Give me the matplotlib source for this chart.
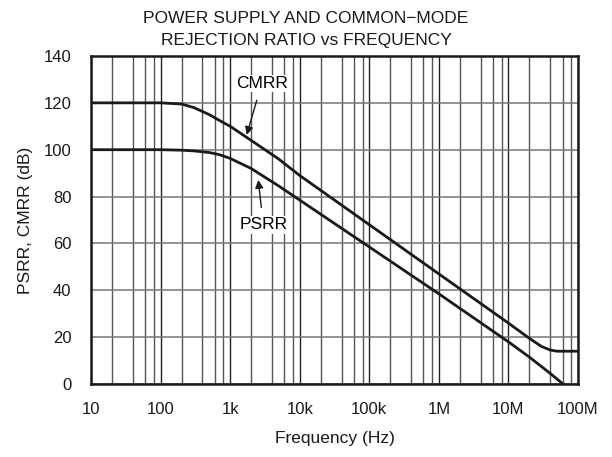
import numpy as np
import matplotlib.pyplot as plt
from matplotlib.ticker import FixedLocator, NullFormatter

plt.rcParams['font.family'] = ['Liberation Sans', 'DejaVu Sans']

# values
freq_cmrr = [10, 100, 200, 300, 500, 700, 1e3, 2e3, 5e3, 1e4, 1e5, 1e6, 1e7, 2e7, 3e7, 4e7, 5e7, 1e8]
cmrr = [120, 120, 119.5, 118, 115, 112.5, 110, 104, 96, 89, 68, 47, 26, 19.5, 16, 14.5, 14, 14]

freq_psrr = [10, 100, 200, 300, 500, 700, 1e3, 2e3, 5e3, 1e4, 1e5, 1e6, 1e7, 2e7, 4e7, 6.1e7]
psrr = [100, 100, 99.8, 99.5, 98.8, 97.9, 96.3, 92, 84.5, 78.5, 58.5, 38.5, 18, 11.5, 4.5, 0]

xticks = [10, 100, 1e3, 1e4, 1e5, 1e6, 1e7, 1e8]
xlabels = ['10', '100', '1k', '10k', '100k', '1M', '10M', '100M']
yticks = [0, 20, 40, 60, 80, 100, 120, 140]

fig = plt.figure(figsize=(6.12, 4.57), dpi=100)
ax = fig.add_axes([0.1487, 0.1597, 0.7957, 0.7178])

ax.semilogx(freq_cmrr, cmrr, color='#1a1a1a', lw=2, zorder=3)
ax.semilogx(freq_psrr, psrr, color='#1a1a1a', lw=2, zorder=3)

ax.set_xlim(10, 1e8)
ax.set_ylim(0, 140)
ax.set_xticks(xticks)
ax.set_xticklabels(xlabels)
minor = [m * d for d in xticks[:-1] for m in (2, 4, 6, 8)]
ax.xaxis.set_minor_locator(FixedLocator(minor))
ax.xaxis.set_minor_formatter(NullFormatter())
ax.set_yticks(yticks)

ax.grid(True, which='major', axis='x', color='#222222', lw=1)
ax.grid(True, which='minor', axis='x', color='#555555', lw=1)
ax.grid(True, which='major', axis='y', color='#777777', lw=1.1)
ax.tick_params(which='both', length=0, labelsize=12, colors='#1a1a1a')
ax.tick_params(axis='x', pad=13)
ax.tick_params(axis='y', pad=14)
for s in ax.spines.values():
    s.set_linewidth(1.8)
    s.set_color('#1a1a1a')
    s.set_zorder(4)

ax.annotate('CMRR', xy=(1.73e3, 106.3), xytext=(2.84e3, 128.3),
            ha='center', va='center', fontsize=12.5, zorder=5,
            bbox=dict(fc='white', ec='none', pad=1),
            arrowprops=dict(arrowstyle='-|>', color='#1a1a1a', lw=1, shrinkA=6, shrinkB=0, mutation_scale=12))
ax.annotate('PSRR', xy=(2.54e3, 87.1), xytext=(2.99e3, 68.0),
            ha='center', va='center', fontsize=12.5, zorder=5,
            bbox=dict(fc='white', ec='none', pad=1),
            arrowprops=dict(arrowstyle='-|>', color='#1a1a1a', lw=1, shrinkA=6, shrinkB=0, mutation_scale=12))

ax.set_xlabel('Frequency (Hz)', fontsize=12.5, labelpad=10, color='#1a1a1a')
ax.set_ylabel('PSRR, CMRR (dB)', fontsize=12.5, labelpad=8, color='#1a1a1a')
fig.text(0.5, 0.976, 'POWER SUPPLY AND COMMON\u2212MODE\nREJECTION RATIO vs FREQUENCY',
         ha='center', va='top', fontsize=12.5, color='#1a1a1a', linespacing=1.6)

fig.savefig('out.png', dpi=100)
